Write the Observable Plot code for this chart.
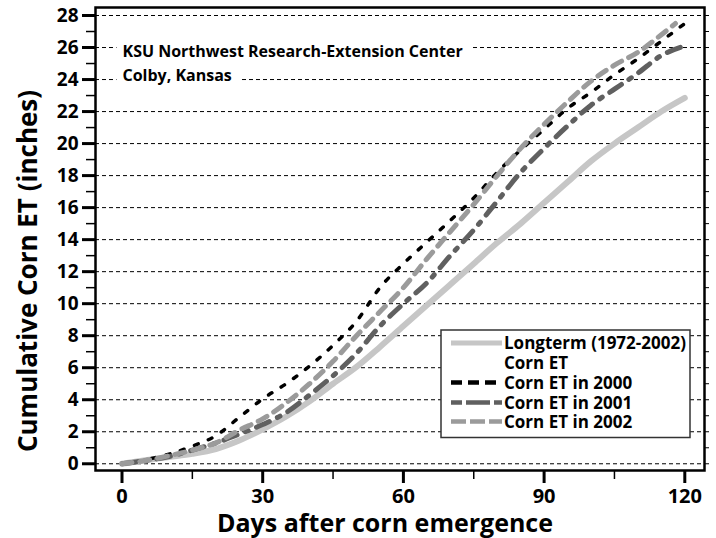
<!DOCTYPE html>
<html><head><meta charset="utf-8">
<script src="https://cdn.jsdelivr.net/npm/d3@7"></script>
<script src="https://cdn.jsdelivr.net/npm/@observablehq/plot@0.6"></script>
<style>
body{margin:0;background:#fff;}
#chart{width:716px;height:538px;}
</style></head><body><div id="chart"></div>
<script>
// ---- data ----
const days     = [0, 5, 10, 15, 20, 25, 30, 35, 40, 45, 50, 55, 60, 65, 70, 75, 80, 85, 90, 95, 100, 105, 110, 115, 120];
const longterm = [0, 0.22, 0.42, 0.62, 0.92, 1.45, 2.15, 2.95, 3.9, 5.0, 6.05, 7.3, 8.6, 9.9, 11.2, 12.5, 13.8, 15.0, 16.3, 17.6, 18.9, 20.0, 21.0, 22.0, 22.85];
const et2000   = [0, 0.25, 0.6, 1.1, 1.75, 2.9, 4.05, 5.0, 6.1, 7.4, 8.9, 11.0, 12.5, 13.85, 15.2, 16.6, 18.2, 19.6, 20.9, 22.2, 23.2, 24.3, 25.3, 26.4, 27.5];
const et2001   = [0, 0.2, 0.45, 0.85, 1.3, 1.85, 2.45, 3.2, 4.3, 5.5, 6.9, 8.6, 10.0, 11.3, 13.0, 14.6, 16.4, 18.2, 19.7, 21.1, 22.4, 23.4, 24.4, 25.5, 26.1];
const days2002 = [0, 5, 10, 15, 20, 25, 30, 35, 40, 45, 50, 55, 60, 65, 70, 75, 80, 85, 90, 95, 100, 105, 110, 115, 118];
const et2002   = [0, 0.2, 0.5, 0.85, 1.3, 2.1, 2.8, 3.8, 5.0, 6.4, 8.0, 9.5, 11.0, 12.8, 14.5, 16.2, 18.0, 19.7, 21.2, 22.6, 23.9, 24.9, 25.7, 26.8, 27.5];

const xTicks      = [0, 30, 60, 90, 120];
const xMinorTicks = [15, 45, 75, 105];
const yTicks      = [0, 2, 4, 6, 8, 10, 12, 14, 16, 18, 20, 22, 24, 26, 28];
const yMinorTicks = [1, 3, 5, 7, 9, 11, 13, 15, 17, 19, 21, 23, 25, 27];
const yAllTicks   = [0,1,2,3,4,5,6,7,8,9,10,11,12,13,14,15,16,17,18,19,20,21,22,23,24,25,26,27,28];

const titleLine1 = "KSU Northwest Research-Extension Center";
const titleLine2 = "Colby, Kansas";
const xLabel = "Days after corn emergence";
const yLabel = "Cumulative Corn ET (inches)";
const legendLabels = ["Longterm (1972-2002)", "Corn ET", "Corn ET in 2000", "Corn ET in 2001", "Corn ET in 2002"];

// ---- styles ----
const series = [
  {name: "Longterm (1972-2002)", x: days, values: longterm, stroke: "#c6c6c6", width: 6, dash: null, legendDash: null},
  {name: "Corn ET in 2000", x: days, values: et2000, stroke: "#000000", width: 3.5, dash: "4,11", legendDash: "11,6"},
  {name: "Corn ET in 2001", x: days, values: et2001, stroke: "#606060", width: 5, dash: "14,9,3,9", legendDash: "11,4,24,4"},
  {name: "Corn ET in 2002", x: days2002, values: et2002, stroke: "#9b9b9b", width: 5, dash: "10,8", legendDash: "15,4"}
];
const rows = series.flatMap(s => s.x.map((d, i) => ({series: s.name, day: d, et: s.values[i]})));

const font = "'Open Sans', sans-serif";
const noText = () => "";

const plot = Plot.plot({
  width: 716, height: 538,
  marginLeft: 95, marginRight: 12, marginTop: 7, marginBottom: 68,
  style: {fontFamily: font, background: "#fff", color: "#000", overflow: "visible"},
  x: {domain: [-5.65, 124.2]},
  y: {domain: [-0.42, 28.5]},
  marks: [
    Plot.gridY(yTicks, {stroke: "#000", strokeOpacity: 1, strokeWidth: 1, strokeDasharray: "4,3"}),
    Plot.axisY(yMinorTicks, {tickSize: 9, strokeWidth: 1.5, tickFormat: noText, label: null}),
    Plot.axisY(yTicks, {tickSize: 13, strokeWidth: 3, tickPadding: 4, fontSize: 19, fontWeight: "bold", label: null}),
    Plot.axisY(yAllTicks, {anchor: "right", tickSize: 4, strokeWidth: 1, tickFormat: noText, label: null}),
    Plot.axisX(xMinorTicks, {tickSize: 9, strokeWidth: 1.5, tickFormat: noText, label: null}),
    Plot.axisX(xTicks, {tickSize: 13, strokeWidth: 3, tickPadding: 5, fontSize: 20, fontWeight: "bold", label: null}),
    ...series.map(s => Plot.line(rows.filter(r => r.series === s.name), {
      x: "day", y: "et", stroke: s.stroke, strokeWidth: s.width,
      strokeDasharray: s.dash, curve: "monotone-x"
    })),
    Plot.text([titleLine1], {frameAnchor: "top-left", textAnchor: "start", lineAnchor: "bottom", dx: 27, dy: 49, fontSize: 16, fontWeight: "bold"}),
    Plot.text([titleLine2], {frameAnchor: "top-left", textAnchor: "start", lineAnchor: "bottom", dx: 27, dy: 73.5, fontSize: 16, fontWeight: "bold"}),
    Plot.text([xLabel], {frameAnchor: "bottom", lineAnchor: "bottom", dx: -15, dy: 61, fontSize: 25, fontWeight: "bold"}),
    Plot.text([yLabel], {frameAnchor: "left", textAnchor: "middle", lineAnchor: "middle", rotate: -90, dx: -67, dy: 32, fontSize: 26, fontWeight: "bold"}),
    Plot.frame({stroke: "#000", strokeWidth: 2.5})
  ]
});

document.getElementById("chart").appendChild(plot);

// white boxes behind the in-plot title lines (they interrupt the grid lines)
const svg = d3.select(plot);
svg.selectAll("text").filter(function () {
  return this.textContent === titleLine1 || this.textContent === titleLine2;
}).each(function () {
  const b = this.getBoundingClientRect();
  const s = plot.getBoundingClientRect();
  const g = this.parentNode;
  const r = document.createElementNS("http://www.w3.org/2000/svg", "rect");
  r.setAttribute("x", b.left - s.left - 6);
  r.setAttribute("y", b.top - s.top - 1);
  r.setAttribute("width", b.width + 16);
  r.setAttribute("height", b.height + 2);
  r.setAttribute("fill", "#fff");
  g.parentNode.insertBefore(r, g);
});

// legend box inside the plot
const lg = svg.append("g").attr("font-family", font).attr("font-weight", "bold")
  .attr("font-size", 17).attr("text-anchor", "start");
lg.append("rect").attr("x", 441).attr("y", 330).attr("width", 249).attr("height", 107.5)
  .attr("fill", "#fff").attr("stroke", "#333").attr("stroke-width", 1.5);
const rowY = [343, 363, 382.5, 402.5, 421.5];
const legendStyles = [series[0], null, series[1], series[2], series[3]];
legendLabels.forEach((lab, i) => {
  const st = legendStyles[i];
  if (st) {
    lg.append("line").attr("x1", 451).attr("x2", 502).attr("y1", rowY[i]).attr("y2", rowY[i])
      .attr("stroke", st.stroke).attr("stroke-width", st === series[0] ? 5 : 4.5)
      .attr("stroke-dasharray", st.legendDash);
  }
  lg.append("text").attr("x", 504).attr("y", rowY[i] + 6).attr("fill", "#000").text(lab);
});
</script>
</body></html>
